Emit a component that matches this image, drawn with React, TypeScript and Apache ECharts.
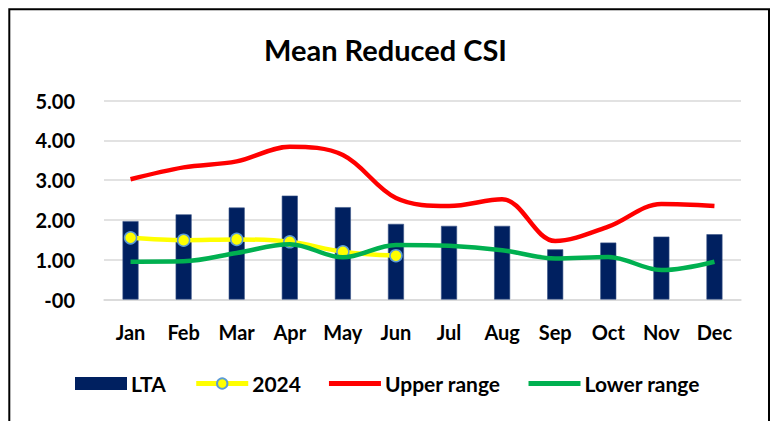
import React, { useEffect, useRef } from "react";
import * as echarts from "echarts";

const months = ["Jan", "Feb", "Mar", "Apr", "May", "Jun", "Jul", "Aug", "Sep", "Oct", "Nov", "Dec"];
const ltaValues = [1.97, 2.14, 2.31, 2.61, 2.32, 1.9, 1.85, 1.85, 1.26, 1.43, 1.58, 1.64];
const values2024 = [1.55, 1.49, 1.51, 1.45, 1.2, 1.1];
const upperRange = [3.02, 3.32, 3.47, 3.84, 3.63, 2.55, 2.35, 2.52, 1.47, 1.83, 2.4, 2.35];
const lowerRange = [0.95, 0.96, 1.17, 1.39, 1.06, 1.37, 1.35, 1.24, 1.03, 1.07, 0.74, 0.95];
const yTickLabels: Record<string, string> = { "0": "-00", "1": "1.00", "2": "2.00", "3": "3.00", "4": "4.00", "5": "5.00" };

const FONT = "Lato";
const BAR_ICON = "path://M0 0H54V5H0Z";

export default function App() {
  const ref = useRef<HTMLDivElement>(null);
  useEffect(() => {
    if (!ref.current) return;
    const chart = echarts.init(ref.current, undefined, { renderer: "svg" });
    chart.setOption({
      animation: false,
      backgroundColor: "#ffffff",
      title: {
        text: "Mean Reduced CSI",
        left: "center",
        top: 30,
        textStyle: { fontFamily: FONT, fontWeight: "bold", fontSize: 29, color: "#000000" },
      },
      graphic: [
        {
          type: "rect",
          shape: { x: 9.3, y: 9.3, width: 759.7, height: 440 },
          style: { fill: "none", stroke: "#000000", lineWidth: 2 },
          silent: true,
        },
      ],
      legend: {
        left: 75,
        top: 373,
        padding: 0,
        itemWidth: 52,
        itemHeight: 13,
        itemGap: 28,
        lineStyle: { width: 5 },
        textStyle: { fontFamily: FONT, fontWeight: "bold", fontSize: 21, color: "#000000", padding: [0, 0, 0, -1] },
        data: [
          { name: "LTA", icon: "rect", itemStyle: { borderWidth: 0 } },
          { name: "2024" },
          { name: "Upper range", icon: BAR_ICON },
          { name: "Lower range", icon: BAR_ICON },
        ],
      },
      grid: { left: 104, right: 30, top: 100.5, bottom: 121.5, containLabel: false },
      xAxis: {
        type: "category",
        data: months,
        axisLine: { show: true, lineStyle: { color: "#d9d9d9", width: 1.5 } },
        axisTick: { show: false },
        axisLabel: { fontFamily: FONT, fontWeight: "bold", fontSize: 20, color: "#000000", margin: 22 },
      },
      yAxis: {
        type: "value",
        min: 0,
        max: 5,
        interval: 1,
        axisLine: { show: false },
        axisTick: { show: false },
        splitLine: { lineStyle: { color: "#d9d9d9", width: 1.5 } },
        axisLabel: {
          fontFamily: FONT,
          fontWeight: "bold",
          fontSize: 20,
          color: "#000000",
          margin: 29,
          formatter: (v: number) => yTickLabels[String(v)] ?? v.toFixed(2),
        },
      },
      series: [
        {
          name: "LTA",
          type: "bar",
          data: ltaValues,
          barWidth: 16,
          itemStyle: { color: "#002060", borderColor: "#3a5688", borderWidth: 0.6 },
          z: 1,
        },
        {
          name: "2024",
          type: "line",
          data: values2024,
          smooth: 0.35,
          symbol: "circle",
          symbolSize: 12,
          lineStyle: { color: "#ffff00", width: 4.5 },
          itemStyle: { color: "#ffff00", borderColor: "#5b9bd5", borderWidth: 1.5 },
          z: 2,
        },
        {
          name: "Upper range",
          type: "line",
          data: upperRange,
          smooth: 0.35,
          symbol: "none",
          lineStyle: { color: "#ff0000", width: 4.5 },
          itemStyle: { color: "#ff0000" },
          z: 3,
        },
        {
          name: "Lower range",
          type: "line",
          data: lowerRange,
          smooth: 0.35,
          symbol: "none",
          lineStyle: { color: "#00b050", width: 4.5 },
          itemStyle: { color: "#00b050" },
          z: 4,
        },
      ],
    });
    return () => chart.dispose();
  }, []);
  return (
    <div
      ref={ref}
      style={{ position: "fixed", left: 0, top: 0, width: 771, height: 421 }}
    />
  );
}
